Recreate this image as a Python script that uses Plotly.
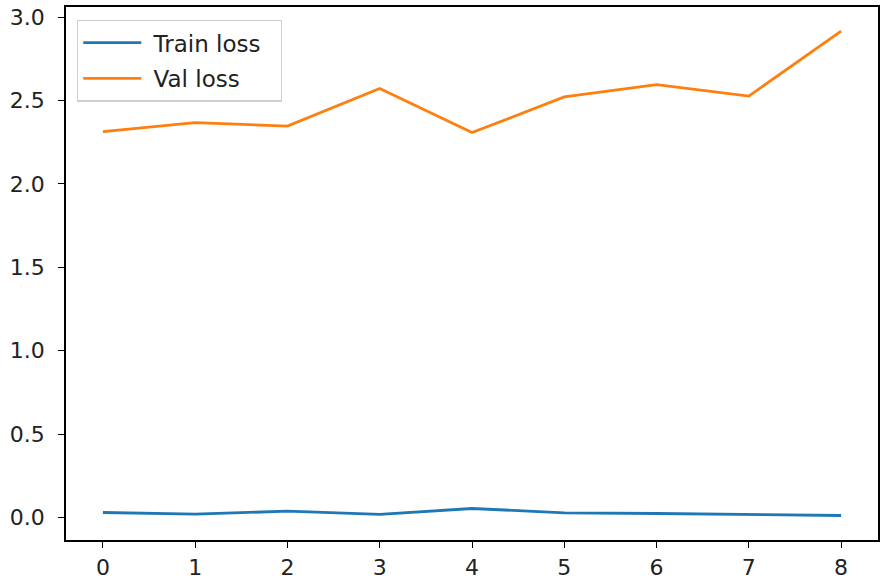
import plotly.graph_objects as go

epochs = [0, 1, 2, 3, 4, 5, 6, 7, 8]
train_loss = [0.030, 0.020, 0.038, 0.019, 0.054, 0.028, 0.024, 0.020, 0.012]
val_loss = [2.314, 2.368, 2.347, 2.572, 2.308, 2.522, 2.596, 2.527, 2.916]
x_ticks = [0, 1, 2, 3, 4, 5, 6, 7, 8]
y_ticks = [0.0, 0.5, 1.0, 1.5, 2.0, 2.5, 3.0]
y_labels = ["0.0", "0.5", "1.0", "1.5", "2.0", "2.5", "3.0"]
series_names = ["Train loss", "Val loss"]

NB = "\u00a0"
fig = go.Figure()
fig.add_trace(go.Scatter(x=epochs, y=train_loss, mode="lines", name=NB + series_names[0] + NB + NB,
                         legendgroup="a",
                         line=dict(color="#1f77b4", width=2.8)))
fig.add_trace(go.Scatter(x=epochs, y=val_loss, mode="lines", name=NB + series_names[1] + NB + NB,
                         legendgroup="b",
                         line=dict(color="#ff7f0e", width=2.8)))

axis_common = dict(showline=True, linecolor="black", linewidth=1.5, mirror=True,
                   ticks="outside", ticklen=6, tickwidth=1.3, tickcolor="black",
                   showgrid=False, zeroline=False, automargin=False,
                   ticklabeloverflow="allow",
                   tickfont=dict(family="DejaVu Sans", size=22, color="#222222"))

fig.update_xaxes(range=[-0.4, 8.4], tickvals=x_ticks, ticktext=[str(t) for t in x_ticks],
                 ticklabelstandoff=1, **axis_common)
fig.update_yaxes(range=[-0.135, 3.061], tickvals=y_ticks, ticktext=y_labels,
                 ticklabelstandoff=9, **axis_common)

fig.update_layout(
    width=881, height=580,
    margin=dict(l=66, r=3, t=7, b=40),
    plot_bgcolor="white", paper_bgcolor="white",
    legend=dict(x=0.0135, y=0.976, xanchor="left", yanchor="top",
                bgcolor="rgba(255,255,255,0.8)", bordercolor="#cfcfcf", borderwidth=1.3,
                font=dict(family="DejaVu Sans", size=23, color="#222222"),
                itemwidth=58, tracegroupgap=3),
    showlegend=True,
)

fig.write_html("out.html", config={"displayModeBar": False},
               post_script="document.body.style.margin='0';document.body.style.overflow='hidden';")
